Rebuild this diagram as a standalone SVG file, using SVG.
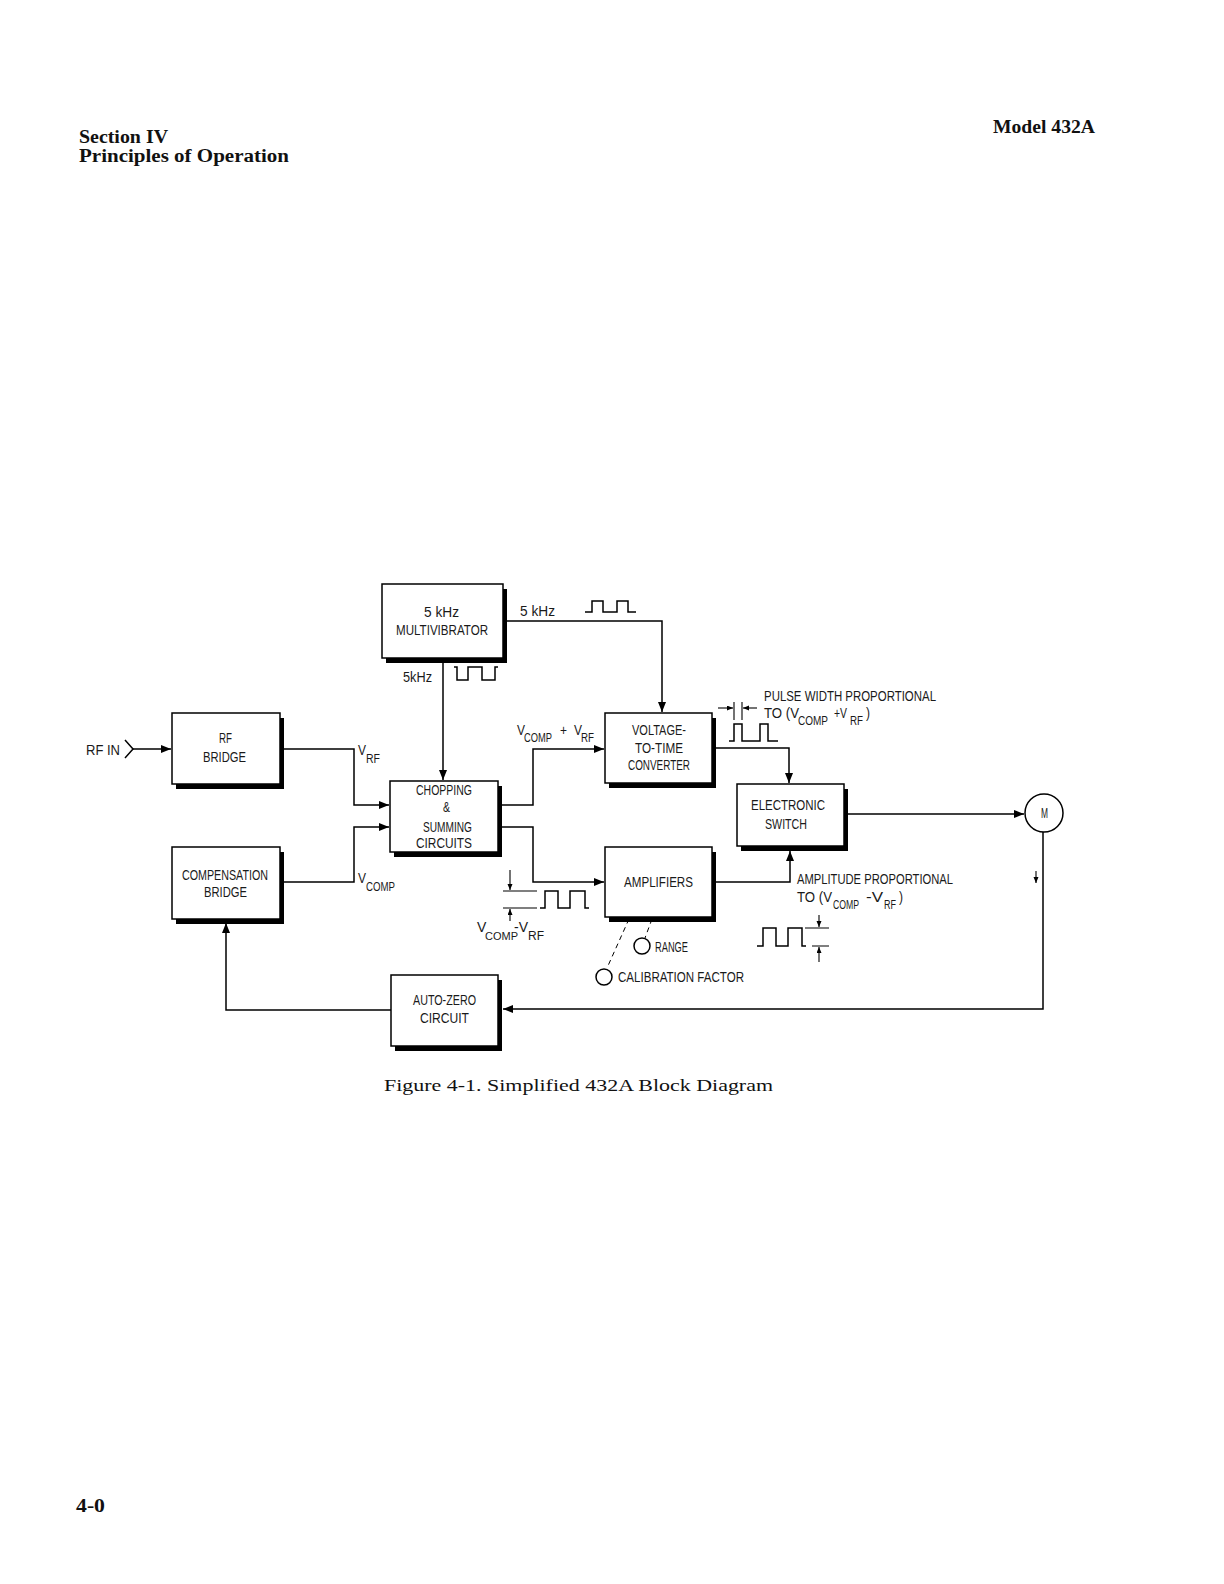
<svg xmlns="http://www.w3.org/2000/svg" width="1224" height="1584" viewBox="0 0 1224 1584">
<style>
.bg{fill:#fff}
.box{fill:#fff;stroke:#000;stroke-width:1.5}
.sh{fill:#000}
.ln{fill:none;stroke:#000;stroke-width:1.5}
.thin{fill:none;stroke:#000;stroke-width:1.1}
.dash{fill:none;stroke:#000;stroke-width:1;stroke-dasharray:5 4}
.t{font-family:"Liberation Sans Narrow","Liberation Sans",sans-serif;font-size:14px;fill:#1a1a1a}
.s{font-family:"Liberation Sans Narrow","Liberation Sans",sans-serif;font-size:12px;fill:#1a1a1a}
.hd{font-family:"Liberation Serif",serif;font-size:18px;font-weight:bold;fill:#111}
.cap{font-family:"Liberation Serif",serif;font-size:17px;fill:#111}
</style>
<defs>
<marker id="ar" markerUnits="userSpaceOnUse" markerWidth="11" markerHeight="9" refX="10" refY="4" orient="auto">
<path d="M0,0 L10,4 L0,8 z" fill="#000"/>
</marker>
<marker id="sa" markerUnits="userSpaceOnUse" markerWidth="7" markerHeight="6" refX="6" refY="2.5" orient="auto">
<path d="M0,0 L6,2.5 L0,5 z" fill="#000"/>
</marker>
</defs>
<rect class="bg" x="0" y="0" width="1224" height="1584"/>

<g id="page-text">
<text class="hd" x="79" y="143" textLength="89" lengthAdjust="spacingAndGlyphs">Section IV</text>
<text class="hd" x="79" y="162" textLength="210" lengthAdjust="spacingAndGlyphs">Principles of Operation</text>
<text class="hd" x="993" y="133" textLength="102" lengthAdjust="spacingAndGlyphs">Model 432A</text>
<text class="cap" x="384" y="1091" textLength="389" lengthAdjust="spacingAndGlyphs">Figure 4-1.  Simplified 432A Block Diagram</text>
<text class="hd" x="76" y="1512" textLength="29" lengthAdjust="spacingAndGlyphs">4-0</text>
</g>

<g id="connectors">
<path class="ln" d="M503 621 H662 V712" marker-end="url(#ar)"/>
<path class="ln" d="M443 662 V780" marker-end="url(#ar)"/>
<polyline class="ln" points="125,740 133,749 125,758"/>
<path class="ln" d="M133 749 H171" marker-end="url(#ar)"/>
<path class="ln" d="M284 749 H354 V805 H389" marker-end="url(#ar)"/>
<path class="ln" d="M284 882 H354 V827 H389" marker-end="url(#ar)"/>
<path class="ln" d="M502 805 H533 V749 H604" marker-end="url(#ar)"/>
<path class="ln" d="M502 827 H533 V882 H604" marker-end="url(#ar)"/>
<path class="ln" d="M716 748 H789 V783" marker-end="url(#ar)"/>
<path class="ln" d="M716 882 H790 V851" marker-end="url(#ar)"/>
<path class="ln" d="M848 814 H1024" marker-end="url(#ar)"/>
<path class="ln" d="M1043 832 V1009 H503" marker-end="url(#ar)"/>
<path class="ln" d="M391 1010 H226 V923" marker-end="url(#ar)"/>
<path class="thin" d="M1036 871 V883" marker-end="url(#sa)"/>
<path class="dash" d="M629 919 L607 968"/>
<path class="dash" d="M652 919 L645 938"/>
</g>

<g id="multivibrator">
<rect class="sh" x="386" y="589" width="121" height="74"/>
<rect class="box" x="382" y="584" width="121" height="74"/>
<text class="t" x="424" y="617" textLength="35" lengthAdjust="spacingAndGlyphs">5 kHz</text>
<text class="t" x="396" y="635" textLength="92" lengthAdjust="spacingAndGlyphs">MULTIVIBRATOR</text>
</g>

<g id="rf-bridge">
<rect class="sh" x="176" y="718" width="108" height="71"/>
<rect class="box" x="172" y="713" width="108" height="71"/>
<text class="t" x="219" y="743" textLength="13" lengthAdjust="spacingAndGlyphs">RF</text>
<text class="t" x="203" y="762" textLength="43" lengthAdjust="spacingAndGlyphs">BRIDGE</text>
</g>

<g id="compensation-bridge">
<rect class="sh" x="176" y="852" width="108" height="72"/>
<rect class="box" x="172" y="847" width="108" height="72"/>
<text class="t" x="182" y="880" textLength="86" lengthAdjust="spacingAndGlyphs">COMPENSATION</text>
<text class="t" x="204" y="897" textLength="43" lengthAdjust="spacingAndGlyphs">BRIDGE</text>
</g>

<g id="chopping-summing">
<rect class="sh" x="394" y="786" width="108" height="71"/>
<rect class="box" x="390" y="781" width="108" height="71"/>
<text class="t" x="416" y="795" textLength="56" lengthAdjust="spacingAndGlyphs">CHOPPING</text>
<text class="t" x="443" y="812" textLength="7" lengthAdjust="spacingAndGlyphs">&amp;</text>
<text class="t" x="423" y="832" textLength="49" lengthAdjust="spacingAndGlyphs">SUMMING</text>
<text class="t" x="416" y="848" textLength="56" lengthAdjust="spacingAndGlyphs">CIRCUITS</text>
</g>

<g id="voltage-to-time">
<rect class="sh" x="609" y="718" width="107" height="70"/>
<rect class="box" x="605" y="713" width="107" height="70"/>
<text class="t" x="632" y="735" textLength="54" lengthAdjust="spacingAndGlyphs">VOLTAGE-</text>
<text class="t" x="635" y="753" textLength="48" lengthAdjust="spacingAndGlyphs">TO-TIME</text>
<text class="t" x="628" y="770" textLength="62" lengthAdjust="spacingAndGlyphs">CONVERTER</text>
</g>

<g id="electronic-switch">
<rect class="sh" x="741" y="789" width="107" height="62"/>
<rect class="box" x="737" y="784" width="107" height="62"/>
<text class="t" x="751" y="810" textLength="74" lengthAdjust="spacingAndGlyphs">ELECTRONIC</text>
<text class="t" x="765" y="829" textLength="42" lengthAdjust="spacingAndGlyphs">SWITCH</text>
</g>

<g id="amplifiers">
<rect class="sh" x="609" y="852" width="107" height="70"/>
<rect class="box" x="605" y="847" width="107" height="70"/>
<text class="t" x="624" y="887" textLength="69" lengthAdjust="spacingAndGlyphs">AMPLIFIERS</text>
</g>

<g id="auto-zero">
<rect class="sh" x="395" y="980" width="107" height="71"/>
<rect class="box" x="391" y="975" width="107" height="71"/>
<text class="t" x="413" y="1005" textLength="63" lengthAdjust="spacingAndGlyphs">AUTO-ZERO</text>
<text class="t" x="420" y="1023" textLength="49" lengthAdjust="spacingAndGlyphs">CIRCUIT</text>
</g>

<g id="meter">
<circle class="ln" cx="1044" cy="813" r="19"/>
<text class="t" x="1041" y="818" textLength="7" lengthAdjust="spacingAndGlyphs">M</text>
</g>

<g id="rf-in">
<text class="t" x="86" y="755" textLength="34" lengthAdjust="spacingAndGlyphs">RF IN</text>
</g>

<g id="range-control">
<circle class="ln" cx="642" cy="946" r="8"/>
<text class="t" x="655" y="952" textLength="33" lengthAdjust="spacingAndGlyphs">RANGE</text>
</g>

<g id="calibration-control">
<circle class="ln" cx="604" cy="977" r="8"/>
<text class="t" x="618" y="982" textLength="126" lengthAdjust="spacingAndGlyphs">CALIBRATION FACTOR</text>
</g>

<g id="labels">
<text class="t" x="520" y="616" textLength="35" lengthAdjust="spacingAndGlyphs">5 kHz</text>
<polyline class="ln" points="585,612 592,612 592,601 603,601 603,612 617,612 617,601 628,601 628,612 636,612"/>
<text class="t" x="403" y="682" textLength="29" lengthAdjust="spacingAndGlyphs">5kHz</text>
<polyline class="ln" points="454,667 457,667 457,680 468,680 468,667 482,667 482,680 495,680 495,667 498,667"/>

<text class="t" x="358" y="755" textLength="8" lengthAdjust="spacingAndGlyphs">V</text>
<text class="s" x="366" y="763" textLength="14" lengthAdjust="spacingAndGlyphs">RF</text>
<text class="t" x="358" y="883" textLength="8" lengthAdjust="spacingAndGlyphs">V</text>
<text class="s" x="366" y="891" textLength="29" lengthAdjust="spacingAndGlyphs">COMP</text>

<text class="t" x="517" y="735" textLength="8" lengthAdjust="spacingAndGlyphs">V</text>
<text class="s" x="524" y="742" textLength="28" lengthAdjust="spacingAndGlyphs">COMP</text>
<text class="t" x="560" y="735" textLength="7" lengthAdjust="spacingAndGlyphs">+</text>
<text class="t" x="574" y="735" textLength="8" lengthAdjust="spacingAndGlyphs">V</text>
<text class="s" x="581" y="742" textLength="13" lengthAdjust="spacingAndGlyphs">RF</text>

<text class="t" x="764" y="701" textLength="172" lengthAdjust="spacingAndGlyphs">PULSE WIDTH PROPORTIONAL</text>
<text class="t" x="764" y="718" textLength="35" lengthAdjust="spacingAndGlyphs">TO (V</text>
<text class="s" x="798" y="725" textLength="30" lengthAdjust="spacingAndGlyphs">COMP</text>
<text class="t" x="834" y="718" textLength="13" lengthAdjust="spacingAndGlyphs">+V</text>
<text class="s" x="850" y="725" textLength="13" lengthAdjust="spacingAndGlyphs">RF</text>
<text class="t" x="866" y="718" textLength="4" lengthAdjust="spacingAndGlyphs">)</text>
<path class="thin" d="M734 702 V720 M742 702 V720"/>
<path class="thin" d="M718 708 H733" marker-end="url(#sa)"/>
<path class="thin" d="M757 708 H743" marker-end="url(#sa)"/>
<polyline class="ln" points="729,741 734,741 734,724 742,724 742,741 760,741 760,724 768,724 768,741 778,741"/>

<text class="t" x="797" y="884" textLength="156" lengthAdjust="spacingAndGlyphs">AMPLITUDE PROPORTIONAL</text>
<text class="t" x="797" y="902" textLength="35" lengthAdjust="spacingAndGlyphs">TO (V</text>
<text class="s" x="833" y="909" textLength="26" lengthAdjust="spacingAndGlyphs">COMP</text>
<text class="t" x="866" y="902" textLength="17" lengthAdjust="spacingAndGlyphs">-V</text>
<text class="s" x="884" y="909" textLength="12" lengthAdjust="spacingAndGlyphs">RF</text>
<text class="t" x="899" y="902" textLength="4" lengthAdjust="spacingAndGlyphs">)</text>
<polyline class="ln" points="757,946 763,946 763,928 776,928 776,946 788,946 788,928 802,928 802,946 806,946"/>
<path class="thin" d="M805 928 H829 M812 946 H829"/>
<path class="thin" d="M819 915 V927" marker-end="url(#sa)"/>
<path class="thin" d="M819 962 V947" marker-end="url(#sa)"/>

<path class="thin" d="M503 891 H537 M503 908 H537"/>
<path class="thin" d="M510 870 V890" marker-end="url(#sa)"/>
<path class="thin" d="M510 921 V909" marker-end="url(#sa)"/>
<polyline class="ln" points="540,908 545,908 545,891 558,891 558,908 570,908 570,891 585,891 585,908 589,908"/>
<text class="t" x="477" y="932">V<tspan class="s" x="485" y="940" style="font-size:11px">COMP</tspan><tspan x="514" y="932">-V</tspan><tspan class="s" x="528" y="940">RF</tspan></text>
</g>
</svg>
